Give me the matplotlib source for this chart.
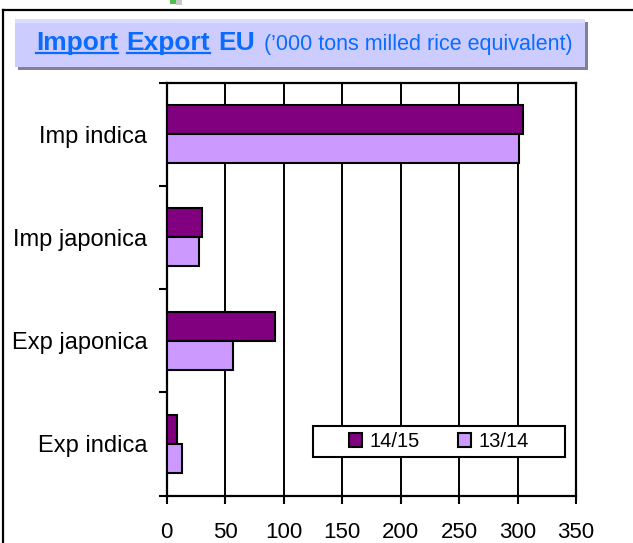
import matplotlib
matplotlib.use("Agg")
import matplotlib.pyplot as plt
from matplotlib.patches import Rectangle
from matplotlib.lines import Line2D

plt.rcParams['font.family'] = ['Liberation Sans', 'DejaVu Sans']

# data
categories = ["Imp indica", "Imp japonica", "Exp japonica", "Exp indica"]
season_1415 = [305, 30, 93, 9]
season_1314 = [301, 28, 57, 13]
series_labels = ["14/15", "13/14"]
x_ticks = [0, 50, 100, 150, 200, 250, 300, 350]

dark = "#800080"
light = "#CC99FF"
blue = "#0A6CFF"

W, H = 633, 543
fig = plt.figure(figsize=(W / 100, H / 100), dpi=100)


def fx(x):
    return x / W


def fy(y):
    return 1 - y / H


# outer chart border (left and top visible)
fig.add_artist(Line2D([fx(3), fx(3)], [fy(10), fy(545)], color="black", lw=1.6))
fig.add_artist(Line2D([fx(3), fx(640)], [fy(10), fy(10)], color="black", lw=1.6))
# small mark above the chart
fig.add_artist(Rectangle((fx(170), fy(4)), 6 / W, 4 / H, color="#4CC04C", lw=0))
fig.add_artist(Rectangle((fx(176), fy(5)), 6 / W, 5 / H, color="#C8C8C8", lw=0))

# title box with shadow
fig.add_artist(Rectangle((fx(18), fy(70)), 570 / W, 48 / H, color="#80809A", lw=0))
fig.add_artist(Rectangle((fx(15), fy(67)), 570 / W, 48 / H, color="#CCCCFF", lw=0))
fig.add_artist(Rectangle((fx(15), fy(23)), 570 / W, 4 / H, color="#DCDCFF", lw=0))

# plot area
ax = fig.add_axes([fx(166.7), fy(495.5), (576 - 166.7) / W, (495.5 - 82.5) / H])
pos = list(range(len(categories)))
bh = 0.28
ax.barh([p - bh / 2 for p in pos], season_1415, height=bh, color=dark,
        edgecolor="black", lw=1.5, label=series_labels[0], zorder=3)
ax.barh([p + bh / 2 for p in pos], season_1314, height=bh, color=light,
        edgecolor="black", lw=1.5, label=series_labels[1], zorder=3)

ax.set_xlim(0, 350)
ax.set_ylim(3.5, -0.5)
ax.set_xticks(x_ticks)
ax.set_xticklabels([str(t) for t in x_ticks], fontsize=16)
ax.set_yticks(pos)
ax.set_yticklabels(categories, fontsize=17)
ax.set_yticks([-0.5, 0.5, 1.5, 2.5, 3.5], minor=True)
ax.tick_params(axis="y", which="major", length=0, pad=14)
ax.tick_params(axis="y", which="minor", length=6, width=1.5, direction="out")
ax.tick_params(axis="x", length=6, width=1.5, direction="out", pad=13)
ax.grid(axis="x", color="black", lw=1.4, zorder=1)
for s in ax.spines.values():
    s.set_linewidth(1.6)
    s.set_color("black")

# legend with its own frame
ax.add_patch(Rectangle((0.3574, 0.0932), 0.6157, 0.0758, transform=ax.transAxes,
                       facecolor="white", edgecolor="black", lw=1.5, zorder=4))
leg = ax.legend(loc="center", bbox_to_anchor=(0.6652, 0.1311), ncol=2,
                frameon=False, fontsize=14.5, handlelength=0.65, handleheight=0.65,
                handletextpad=0.35, columnspacing=1.9, borderaxespad=0)
leg.set_zorder(5)

# title made of pieces, with underlines
pieces = [("Import", 19, "bold", True, 0),
          ("Export", 19, "bold", True, 8.7),
          ("EU", 19, "bold", False, 8),
          ("(\u2019000 tons milled rice equivalent)", 15.5, "normal", False, 9)]
fig.canvas.draw()
r = fig.canvas.get_renderer()
x = 36
for txt, size, weight, ul, gap in pieces:
    x += gap
    t = fig.text(fx(x), fy(50), txt, fontsize=size, weight=weight, color=blue,
                 va="baseline", ha="left")
    bb = t.get_window_extent(renderer=r)
    if ul:
        fig.add_artist(Line2D([fx(x), fx(x + bb.width)], [fy(53), fy(53)],
                              color=blue, lw=1.6))
    x += bb.width

fig.savefig("out.png", dpi=100)
